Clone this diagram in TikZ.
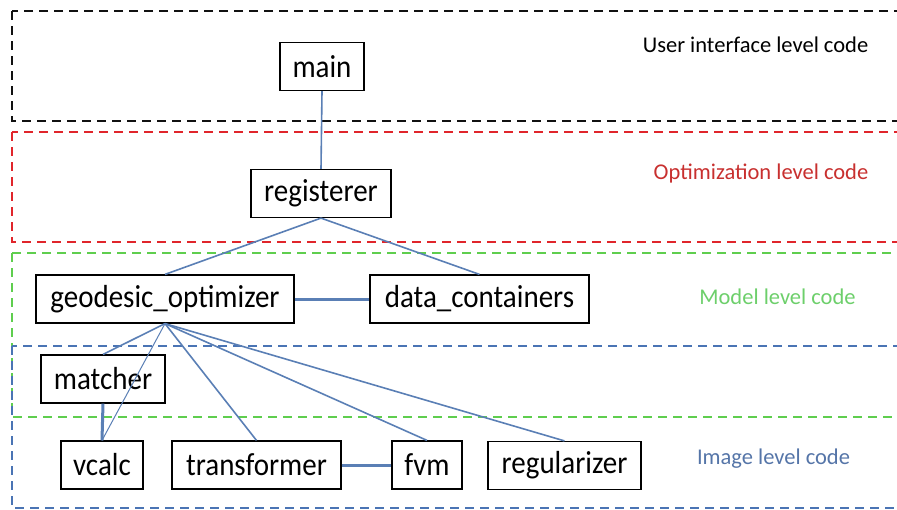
\documentclass[tikz,border=0pt]{standalone}
\usepackage{fontspec}
\setmainfont{Carlito}
\definecolor{dblack}{HTML}{111111}
\definecolor{dred}{HTML}{E0252B}
\definecolor{dgreen}{HTML}{5FCE4E}
\definecolor{dblue}{HTML}{4A74B4}
\definecolor{tred}{HTML}{C8302F}
\definecolor{tgreen}{HTML}{6DCF6B}
\definecolor{tblue}{HTML}{5575A8}
\definecolor{conn}{HTML}{5A7FB5}
\newcommand\boxtxt[1]{\scalebox{1}[1.1]{#1}}
\tikzset{
  level/.style={line width=2.6pt, dash pattern=on 9pt off 6pt},
  modbox/.style={draw=black, line width=1.2pt, fill=white, inner sep=0pt,
     minimum height=48pt, font=\fontsize{29}{34}\selectfont},
  lvltxt/.style={font=\fontsize{22.5}{27}\selectfont, inner sep=0pt},
  thin conn/.style={draw=conn, line width=1.6pt},
  thick conn/.style={draw=conn, line width=3pt},
}
\begin{document}
\begin{tikzpicture}[x=1pt,y=-1pt]
\clip (0,0) rectangle (897,509);
% level boxes
\draw[level, dblack] (12,11) rectangle (910,121);
\draw[level, dred] (12,132) rectangle (910,242);
\draw[level, dgreen] (12,253) rectangle (910,417);
\draw[level, dblue] (12,346) rectangle (910,508);
% level labels
\node[lvltxt, text=black] (l1) at (755.5,45) {User interface level code};
\node[lvltxt, text=tred] (l2) at (761,173) {Optimization level code};
\node[lvltxt, text=tgreen] (l3) at (777.5,297) {Model level code};
\node[lvltxt, text=tblue] (l4) at (773.5,459) {Image level code};
% modules
\node[modbox, minimum width=84pt] (main) at (322,66.5) {\boxtxt{main}};
\node[modbox, minimum width=140pt] (reg) at (321,193.5) {\boxtxt{registerer}};
\node[modbox, minimum width=258pt] (geo) at (165,299) {\boxtxt{geodesic\_optimizer}};
\node[modbox, minimum width=219pt] (data) at (479.5,299) {\boxtxt{data\_containers}};
\node[modbox, minimum width=124pt] (match) at (103,379) {\boxtxt{matcher}};
\node[modbox, minimum width=82pt] (vcalc) at (102,465) {\boxtxt{vcalc}};
\node[modbox, minimum width=169pt] (trans) at (256.5,465) {\boxtxt{transformer}};
\node[modbox, minimum width=70pt] (fvm) at (427,465) {\boxtxt{fvm}};
\node[modbox, minimum width=153pt] (regu) at (564.5,465.5) {\boxtxt{regularizer}};
% connectors
\draw[thin conn] (main.south) -- (reg.north);
\draw[thin conn] (reg.south) -- (geo.north);
\draw[thin conn] (reg.south) -- (data.north);
\draw[thick conn] (geo.east) -- (data.west);
\draw[thin conn] (geo.south) -- (match.north);
\draw[draw=conn, line width=1pt] (geo.south) -- (vcalc.north);
\draw[thin conn] (geo.south) -- (trans.north);
\draw[thin conn] (geo.south) -- (fvm.north);
\draw[thin conn] (geo.south) -- (regu.north);
\draw[thick conn] (match.south) -- (vcalc.north);
\draw[thick conn] (trans.east) -- (fvm.west);
\end{tikzpicture}
\end{document}
